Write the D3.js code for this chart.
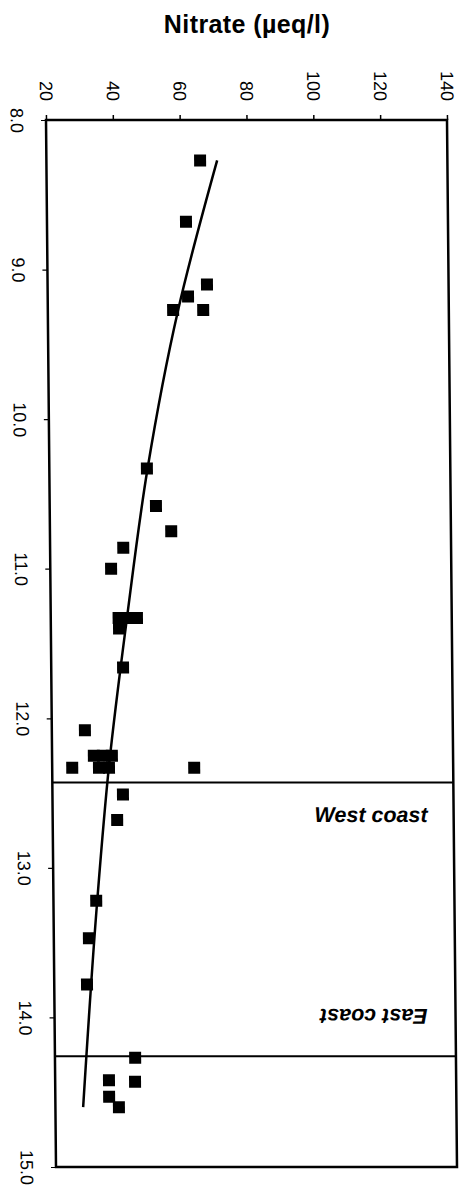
<!DOCTYPE html>
<html>
<head>
<meta charset="utf-8">
<script src="https://cdn.jsdelivr.net/npm/d3@7"></script>
<style>
  body { margin: 0; background: #fff; }
  svg { display: block; font-family: "Liberation Sans", Arial, sans-serif; }
</style>
</head>
<body>
<svg width="472" height="1199"></svg>
<script>
// DATA

var position = [8.27, 8.68, 9.10, 9.18, 9.27, 9.27, 10.33, 10.58, 10.75, 10.86,
    11.00, 11.33, 11.33, 11.33, 11.40, 11.66, 12.08, 12.25, 12.25, 12.25,
    12.33, 12.33, 12.33, 12.33, 12.51, 12.68, 13.22, 13.47, 13.78, 14.27,
    14.42, 14.43, 14.53, 14.60];
var nitrate = [66.0, 61.6, 67.7, 62.0, 57.5, 66.5, 49.2, 51.8, 56.3, 41.9,
    38.2, 40.3, 43.0, 45.8, 40.4, 41.5, 29.9, 32.5, 35.2, 37.9,
    26.0, 34.0, 37.0, 62.5, 41.1, 39.3, 32.8, 30.5, 29.8, 44.0,
    36.1, 43.9, 36.1, 39.0];
// trend curve as drawn in the original
var trendPosition = [8.27, 9.27, 10.33, 11.33, 12.32, 13.22, 14.60];
var trendNitrate = [71.1, 59.0, 49.4, 42.8, 37.0, 33.1, 28.3];
var nitrateTicks = [20, 40, 60, 80, 100, 120, 140];
var positionTicks = [8, 9, 10, 11, 12, 13, 14, 15];
var coastLines = [12.43, 14.26];

// SETUP

var svg = d3.select("svg"),
    x = d3.scaleLinear().domain([20, 140]).range([46, 447]),
    y = d3.scaleLinear().domain([8, 15]).range([120, 1167]);

var points = position.map(function (p, i) { return { p: p, n: nitrate[i] }; });
var trend = trendPosition.map(function (p, i) { return { p: p, n: trendNitrate[i] }; });

svg.append("text")
    .attr("x", 247)
    .attr("y", 33)
    .attr("text-anchor", "middle")
    .style("font-weight", "bold")
    .style("font-size", "25px")
    .style("letter-spacing", "0.4px")
    .text("Nitrate (\u00b5eq/l)");

// the scan is slightly sheared, so is the plot
var g = svg.append("g")
    .attr("transform", "translate(0,120) skewX(0.547) translate(0,-120)");

// top axis
var xAxisG = g.append("g")
    .attr("transform", "translate(0," + y(8) + ")")
    .call(d3.axisTop(x).tickValues(nitrateTicks).tickSize(5).tickSizeOuter(0));
xAxisG.select(".domain").remove();
xAxisG.selectAll("line").attr("stroke-width", 1.5);
xAxisG.selectAll("text")
    .attr("x", 0).attr("y", 0).attr("dy", "0.35em")
    .attr("transform", "translate(0,-19) rotate(90)")
    .style("text-anchor", "end")
    .style("font-size", "18px");
xAxisG.attr("font-family", null).attr("font-size", null);

// left axis
var yAxisG = g.append("g")
    .attr("transform", "translate(" + x(20) + ",0)")
    .call(d3.axisLeft(y).tickValues(positionTicks).tickSize(5).tickSizeOuter(0)
        .tickFormat(d3.format(".1f")));
yAxisG.select(".domain").remove();
yAxisG.selectAll("line").attr("stroke-width", 1.2);
yAxisG.selectAll("text")
    .attr("x", 0).attr("y", 0).attr("dy", "0.35em")
    .attr("transform", "translate(-29,0) rotate(90)")
    .style("text-anchor", "middle")
    .style("font-size", "18px");
yAxisG.attr("font-family", null).attr("font-size", null);

// frame
g.append("rect")
    .attr("x", x(20))
    .attr("y", y(8))
    .attr("width", x(140) - x(20))
    .attr("height", y(15) - y(8))
    .attr("fill", "none")
    .attr("stroke", "#000")
    .attr("stroke-width", 2.5);

// coast dividers
g.selectAll(".coast")
    .data(coastLines)
    .enter().append("line")
    .attr("class", "coast")
    .attr("x1", x(20)).attr("x2", x(140))
    .attr("y1", function (d) { return y(d); })
    .attr("y2", function (d) { return y(d); })
    .attr("stroke", "#000")
    .attr("stroke-width", 2);

g.append("text")
    .attr("x", 421)
    .attr("y", 822)
    .attr("text-anchor", "end")
    .style("font-weight", "bold")
    .style("font-style", "italic")
    .style("font-size", "21.5px")
    .text("West coast");

g.append("text")
    .attr("transform", "translate(419,1009) rotate(180)")
    .attr("text-anchor", "start")
    .style("font-weight", "bold")
    .style("font-style", "italic")
    .style("font-size", "21.5px")
    .text("East coast");

// trend curve
g.append("path")
    .datum(trend)
    .attr("fill", "none")
    .attr("stroke", "#000")
    .attr("stroke-width", 2.5)
    .attr("d", d3.line()
        .curve(d3.curveMonotoneY)
        .x(function (d) { return x(d.n); })
        .y(function (d) { return y(d.p); }));

// markers
var s = 12;
g.selectAll(".pt")
    .data(points)
    .enter().append("rect")
    .attr("class", "pt")
    .attr("x", function (d) { return x(d.n) - s / 2; })
    .attr("y", function (d) { return y(d.p) - s / 2; })
    .attr("width", s)
    .attr("height", s)
    .attr("fill", "#000");
</script>
</body>
</html>
